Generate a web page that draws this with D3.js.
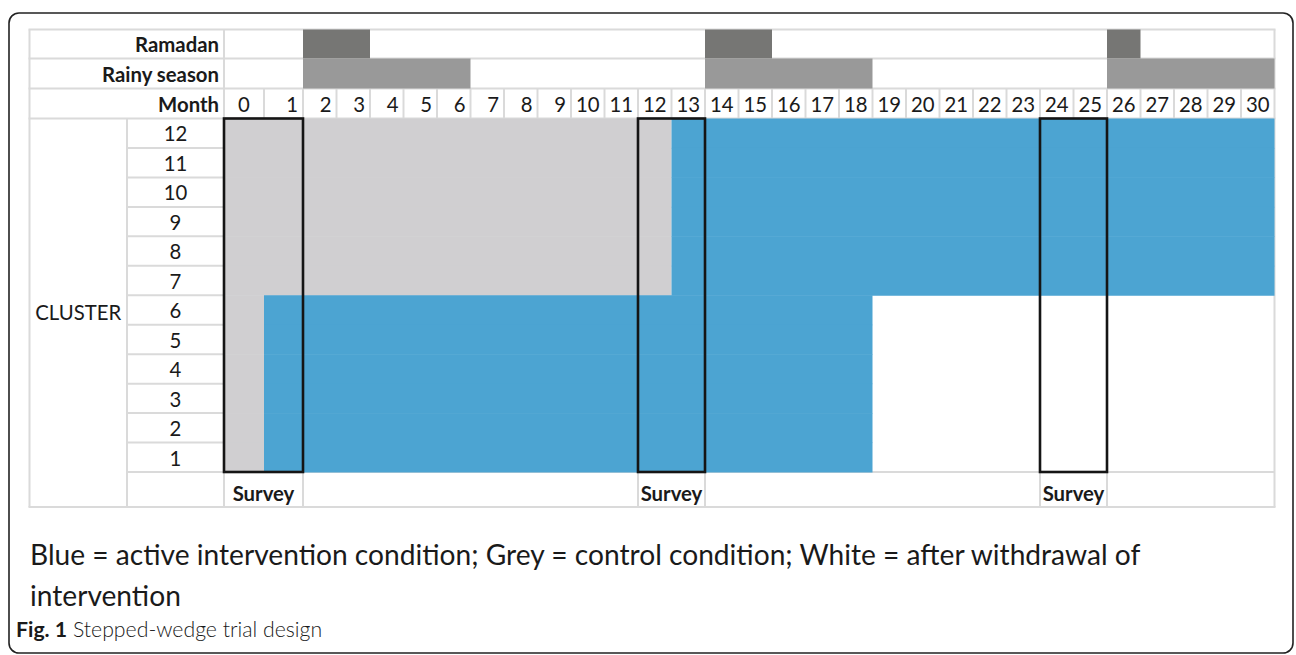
<!DOCTYPE html>
<html>
<head>
<meta charset="utf-8">
<script src="https://cdn.jsdelivr.net/npm/d3@7"></script>
<style>
  html, body { margin: 0; padding: 0; background: #fff; }
  svg { display: block; }
  text { font-family: Lato, "Open Sans", sans-serif; fill: #1a1a1a; }
</style>
</head>
<body>
<svg id="chart" width="1296" height="655"></svg>
<script>
// ---------------- data ----------------
const monthLabels = ["0","1","2","3","4","5","6","7","8","9","10","11","12","13","14","15","16","17","18","19","20","21","22","23","24","25","26","27","28","29","30"];
const clusterIds = [12, 11, 10, 9, 8, 7, 6, 5, 4, 3, 2, 1];
// last month of control condition per cluster (-1 = none)
const controlUntil = [12, 12, 12, 12, 12, 12, 0, 0, 0, 0, 0, 0];
// last month of active intervention per cluster
const activeUntil = [30, 30, 30, 30, 30, 30, 18, 18, 18, 18, 18, 18];
const ramadanStart = [2, 14, 26];
const ramadanEnd   = [3, 15, 26];
const rainyStart   = [2, 14, 26];
const rainyEnd     = [6, 18, 30];
const surveyStart  = [0, 12, 24];
const surveyEnd    = [1, 13, 25];
const headerLabels = ["Ramadan", "Rainy season", "Month"];
const captionLines = ["Blue = active intervention condition; Grey = control condition; White = after withdrawal of", "intervention"];
const figLabel = "Fig. 1";
const figTitle = " Stepped-wedge trial design";

// ---------------- layout ----------------
const svg = d3.select("#chart");
const C = {
  blue: "#4ca4d2", control: "#d0cfd1", ramadan: "#767674", rainy: "#999999",
  grid: "#dadada", box: "#151515", text: "#1a1a1a"
};
const L = 29.5, colCl = 127, colLab = 224, R = 1274.5;
const yTop = 29.5, yRain = 58.5, yMonth = 88.5, yData = 118.5, yDataEnd = 472, yEnd = 507;

// month scale: edges (month m spans x(m) .. x(m+1))
const x = d3.scaleLinear().domain([0, 1, 2, monthLabels.length]).range([colLab, 264, 303, R]);
const y = d3.scaleBand().domain(clusterIds).range([yData, yDataEnd]);

svg.append("rect").attr("width", 1296).attr("height", 655).attr("fill", "#fff");

// outer rounded frame
svg.append("rect").attr("x", 9).attr("y", 13).attr("width", 1284).attr("height", 640)
  .attr("rx", 10).attr("fill", "none").attr("stroke", "#222").attr("stroke-width", 1.6);

// ---------------- gridlines ----------------
const grid = svg.append("g").attr("stroke", C.grid).attr("stroke-width", 2).attr("fill", "none");
const hl = (x1, x2, yy) => grid.append("line").attr("x1", x1).attr("x2", x2).attr("y1", yy).attr("y2", yy);
const vl = (xx, y1, y2) => grid.append("line").attr("x1", xx).attr("x2", xx).attr("y1", y1).attr("y2", y2);
[yTop, yRain, yMonth, yData].forEach(yy => hl(L - 1, R + 1, yy));
hl(colCl, R, yDataEnd);
hl(L - 1, R + 1, yEnd);
vl(L, yTop, yEnd); vl(R, yTop, yEnd); vl(colLab, yTop, yEnd); vl(colCl, yData, yEnd);
d3.range(1, monthLabels.length).forEach(m => vl(x(m), yMonth, yData));
clusterIds.forEach(c => hl(colCl, colLab, y(c) + y.bandwidth()));
surveyStart.forEach((s, i) => { vl(x(s), yDataEnd, yEnd); vl(x(surveyEnd[i] + 1), yDataEnd, yEnd); });

// ---------------- header bands ----------------
svg.append("g").selectAll("rect").data(ramadanStart).join("rect")
  .attr("x", (d) => x(d)).attr("width", (d, i) => x(ramadanEnd[i] + 1) - x(d))
  .attr("y", yTop).attr("height", yRain - yTop).attr("fill", C.ramadan);
svg.append("g").selectAll("rect").data(rainyStart).join("rect")
  .attr("x", (d) => x(d)).attr("width", (d, i) => x(rainyEnd[i] + 1) - x(d))
  .attr("y", yRain).attr("height", yMonth - yRain).attr("fill", C.rainy);

// ---------------- condition cells ----------------
const cells = svg.append("g");
clusterIds.forEach((c, i) => {
  if (controlUntil[i] >= 0) {
    cells.append("rect").attr("x", x(0)).attr("width", x(controlUntil[i] + 1) - x(0))
      .attr("y", y(c)).attr("height", y.bandwidth() + 0.5).attr("fill", C.control);
  }
  cells.append("rect").attr("x", x(controlUntil[i] + 1)).attr("width", x(activeUntil[i] + 1) - x(controlUntil[i] + 1))
    .attr("y", y(c)).attr("height", y.bandwidth() + 0.5).attr("fill", C.blue);
});

// survey boxes
svg.append("g").selectAll("rect").data(surveyStart).join("rect")
  .attr("x", d => x(d)).attr("width", (d, i) => x(surveyEnd[i] + 1) - x(d))
  .attr("y", yData).attr("height", yDataEnd - yData)
  .attr("fill", "none").attr("stroke", C.box).attr("stroke-width", 2.6);

// ---------------- text ----------------
function measure(str, weight, size) {
  const t = svg.append("text").attr("font-size", size).attr("font-weight", weight).text(str);
  const w = t.node().getComputedTextLength(); t.remove(); return w;
}
const tSize = 100 * 117 / measure("Rainy season", "bold", 100);
const nSize = tSize;

const hdrBottoms = [yRain, yMonth, yData];
svg.append("g").selectAll("text").data(headerLabels).join("text")
  .attr("x", colLab - 5).attr("y", (d, i) => hdrBottoms[i] - 6.8)
  .attr("text-anchor", "end").attr("font-weight", "bold").attr("font-size", tSize).text(d => d);

svg.append("g").selectAll("text").data(monthLabels).join("text")
  .attr("x", (d, i) => i === 0 ? (x(0) + x(1)) / 2 : x(i + 1) - 5)
  .attr("text-anchor", (d, i) => i === 0 ? "middle" : "end")
  .attr("y", yData - 6.8).attr("font-size", nSize).text(d => d);

svg.append("g").selectAll("text").data(clusterIds).join("text")
  .attr("x", (colCl + colLab) / 2).attr("text-anchor", "middle")
  .attr("y", d => y(d) + y.bandwidth() - 6.5).attr("font-size", nSize).text(d => d);

svg.append("text").attr("x", (L + colCl) / 2).attr("y", 320).attr("text-anchor", "middle")
  .attr("font-size", nSize).text("CLUSTER");

svg.append("g").selectAll("text").data(surveyStart).join("text")
  .attr("x", (d, i) => (x(d) + x(surveyEnd[i] + 1)) / 2).attr("text-anchor", "middle")
  .attr("y", 501).attr("font-weight", "bold").attr("font-size", tSize).text("Survey");

// caption
const capSize = 100 * 1111 / measure(captionLines[0], "normal", 100);
svg.append("g").selectAll("text").data(captionLines).join("text")
  .attr("x", 30).attr("y", (d, i) => 565 + i * 40.5).attr("font-size", capSize).text(d => d);

const figSize = 100 * 305 / (measure(figLabel, "bold", 100) + measure(figTitle, "normal", 100));
const fig = svg.append("text").attr("x", 16).attr("y", 637).attr("font-size", figSize).attr("fill", "#222");
fig.append("tspan").attr("font-weight", "bold").text(figLabel);
fig.append("tspan").attr("font-weight", "300").text(figTitle);
</script>
</body>
</html>
